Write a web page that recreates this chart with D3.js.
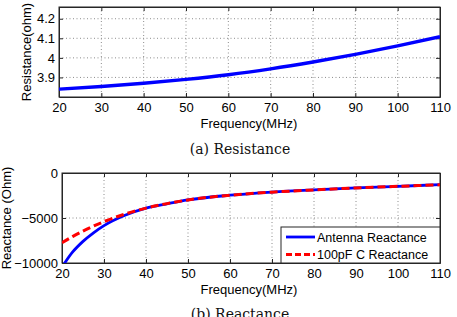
<!DOCTYPE html>
<html>
<head>
<meta charset="utf-8">
<script src="https://d3js.org/d3.v7.min.js"></script>
<style>
  body { margin: 0; background: #fff; }
  svg { display: block; }
  .ax text { font-family: "Liberation Sans", Arial, sans-serif; font-size: 13px; fill: #000; }
  .ax path, .ax line { stroke: #262626; }
  .grid line { stroke: #8c8c8c; stroke-dasharray: 1,2.5; }
  .lbl { font-family: "Liberation Sans", Arial, sans-serif; font-size: 13px; fill: #000; }
  .cap { font-family: "DejaVu Serif", "Liberation Serif", serif; font-size: 14px; fill: #111; }
</style>
</head>
<body>
<svg id="chart" width="457" height="317"></svg>
<script>
'use strict';

// ─── DATA ────────────────────────────────────────────────────

var resFreq = [20, 30, 40, 50, 60, 70, 80, 90, 100, 110];
var resistance = [3.840, 3.854, 3.870, 3.890, 3.914, 3.944, 3.979, 4.018, 4.061, 4.108];

var reactFreq = [20, 22.5, 25, 27.5, 30, 35, 40, 45, 50, 60, 70, 80, 90, 100, 110];
var antennaReactance = [-10450, -8800, -7600, -6650, -5850, -4700, -3900, -3420, -2990, -2470, -2120, -1870, -1660, -1480, -1300];
var capReactance = [-7750, -7070, -6450, -5900, -5400, -4560, -3900, -3400, -2990, -2470, -2130, -1880, -1660, -1480, -1310];

var xTicks = [20, 30, 40, 50, 60, 70, 80, 90, 100, 110];
var resTicks = [3.9, 4.0, 4.1, 4.2];
var resTickLabels = ['3.9', '4', '4.1', '4.2'];
var reactTicks = [-10000, -5000, 0];
var legendLabels = ['Antenna Reactance', '100pF C Reactance'];

// ─── DRAW ────────────────────────────────────────────────────

var svg = d3.select('#chart');
svg.append('rect').attr('width', 457).attr('height', 317).attr('fill', '#fff');

function panel(box, yDomain, yTicks, yFormat, yLabel, yLabelX, caption, captionY) {
    var x = d3.scaleLinear().domain([20, 110]).range([box.left, box.right]);
    var y = d3.scaleLinear().domain(yDomain).range([box.bottom, box.top]);
    var g = svg.append('g');
    var clipId = 'clip' + Math.round(box.top);

    g.append('clipPath').attr('id', clipId)
        .append('rect')
        .attr('x', box.left).attr('y', box.top)
        .attr('width', box.right - box.left).attr('height', box.bottom - box.top);

    // grid
    var grid = g.append('g').attr('class', 'grid');
    grid.selectAll('.vg').data(xTicks.slice(1, -1)).enter().append('line')
        .attr('x1', function(d) { return x(d); }).attr('x2', function(d) { return x(d); })
        .attr('y1', box.top).attr('y2', box.bottom);
    grid.selectAll('.hg').data(yTicks.filter(function(t) { return y(t) > box.top + 1 && y(t) < box.bottom - 1; }))
        .enter().append('line')
        .attr('y1', function(d) { return y(d); }).attr('y2', function(d) { return y(d); })
        .attr('x1', box.left).attr('x2', box.right);

    // axes (ticks inward, MATLAB style)
    g.append('g').attr('class', 'ax')
        .attr('transform', 'translate(0,' + box.bottom + ')')
        .call(d3.axisBottom(x).tickValues(xTicks).tickSize(-4).tickPadding(6).tickSizeOuter(0));
    g.append('g').attr('class', 'ax')
        .attr('transform', 'translate(0,' + box.top + ')')
        .call(d3.axisTop(x).tickValues(xTicks).tickSize(-4).tickFormat('').tickSizeOuter(0));
    g.append('g').attr('class', 'ax')
        .attr('transform', 'translate(' + box.left + ',0)')
        .call(d3.axisLeft(y).tickValues(yTicks).tickFormat(yFormat).tickSize(-4).tickPadding(4).tickSizeOuter(0));
    g.append('g').attr('class', 'ax')
        .attr('transform', 'translate(' + box.right + ',0)')
        .call(d3.axisRight(y).tickValues(yTicks).tickFormat('').tickSize(-4).tickSizeOuter(0));

    g.append('rect')
        .attr('x', box.left).attr('y', box.top)
        .attr('width', box.right - box.left).attr('height', box.bottom - box.top)
        .attr('fill', 'none').attr('stroke', '#262626').attr('stroke-width', 1);

    g.append('text').attr('class', 'lbl')
        .attr('x', 249).attr('y', box.bottom + 30.5)
        .attr('text-anchor', 'middle')
        .text('Frequency(MHz)');

    g.append('text').attr('class', 'lbl')
        .attr('transform', 'translate(' + yLabelX + ',' + (box.top + box.bottom) / 2 + ') rotate(-90)')
        .attr('text-anchor', 'middle')
        .text(yLabel);

    g.append('text').attr('class', 'cap')
        .attr('x', 240).attr('y', captionY)
        .attr('text-anchor', 'middle')
        .text(caption);

    return { x: x, y: y, g: g, clipId: clipId };
}

// (a) Resistance
var resPanel = panel({ left: 59, right: 440, top: 7, bottom: 97 }, [3.8, 4.26], resTicks,
    function(d, i) { return resTickLabels[i]; }, 'Resistance(ohm)', 31, '(a) Resistance', 154);

resPanel.g.append('path')
    .datum(resFreq.map(function(f, i) { return [f, resistance[i]]; }))
    .attr('clip-path', 'url(#' + resPanel.clipId + ')')
    .attr('fill', 'none').attr('stroke', '#0000ff').attr('stroke-width', 3.4)
    .attr('d', d3.line().curve(d3.curveMonotoneX)
        .x(function(d) { return resPanel.x(d[0]); })
        .y(function(d) { return resPanel.y(d[1]); }));

// (b) Reactance — caption sits at the page's lower edge, as in the source figure
var reactPanel = panel({ left: 62, right: 440, top: 173, bottom: 263 }, [-10000, 0], reactTicks,
    d3.format('d'), 'Reactance (Ohm)', 11, '(b) Reactance', 319);

var reactLine = d3.line().curve(d3.curveMonotoneX)
    .x(function(d) { return reactPanel.x(d[0]); })
    .y(function(d) { return reactPanel.y(d[1]); });

reactPanel.g.append('path')
    .datum(reactFreq.map(function(f, i) { return [f, antennaReactance[i]]; }))
    .attr('clip-path', 'url(#' + reactPanel.clipId + ')')
    .attr('fill', 'none').attr('stroke', '#0000ff').attr('stroke-width', 2.8)
    .attr('d', reactLine);

reactPanel.g.append('path')
    .datum(reactFreq.map(function(f, i) { return [f, capReactance[i]]; }))
    .attr('clip-path', 'url(#' + reactPanel.clipId + ')')
    .attr('fill', 'none').attr('stroke', '#ff0000').attr('stroke-width', 3)
    .attr('stroke-dasharray', '8,4')
    .attr('d', reactLine);

// legend
var leg = reactPanel.g.append('g');
leg.append('rect')
    .attr('x', 281).attr('y', 227).attr('width', 159).attr('height', 36)
    .attr('fill', '#fff').attr('stroke', '#262626').attr('stroke-width', 1);

var legStyles = [
    { color: '#0000ff', dash: null, width: 2.8 },
    { color: '#ff0000', dash: '6,3', width: 3 }
];
legendLabels.forEach(function(name, i) {
    var cy = 237 + i * 17.5;
    leg.append('line')
        .attr('x1', 286).attr('x2', 315).attr('y1', cy).attr('y2', cy)
        .attr('stroke', legStyles[i].color).attr('stroke-width', legStyles[i].width)
        .attr('stroke-dasharray', legStyles[i].dash);
    leg.append('text').attr('class', 'lbl')
        .attr('x', 317).attr('y', cy).attr('dy', '0.36em')
        .style('font-size', '12.5px')
        .text(name);
});
</script>
</body>
</html>
